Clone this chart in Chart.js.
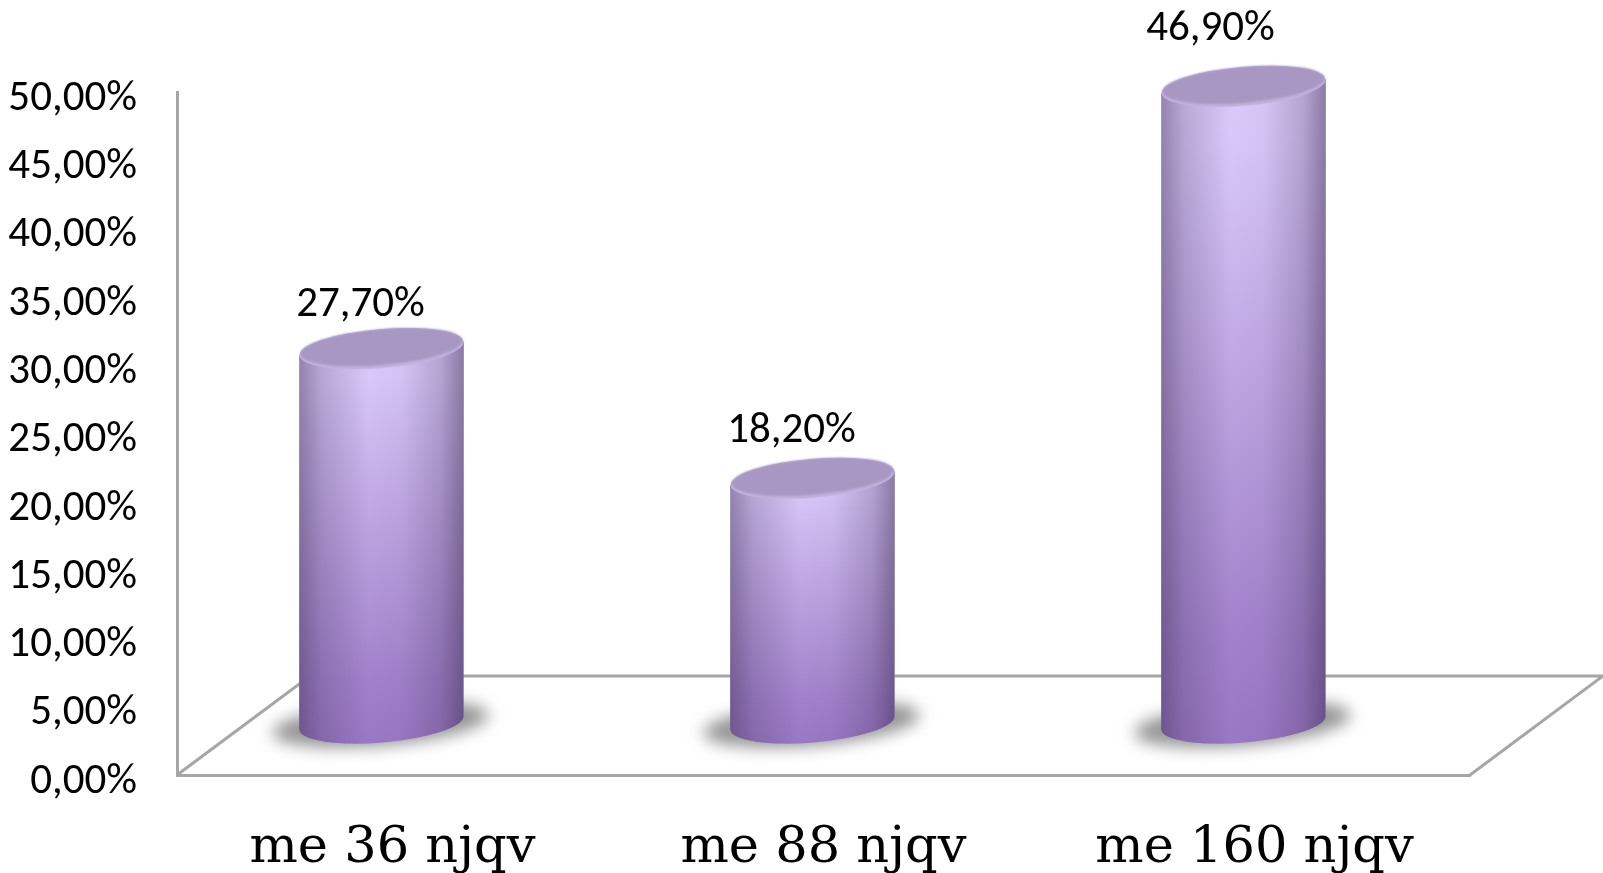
<!DOCTYPE html>
<html>
<head>
<meta charset="utf-8">
<script src="https://cdn.jsdelivr.net/npm/chart.js@4"></script>
<style>
html, body { margin: 0; padding: 0; background: #fff; }
canvas { display: block; }
</style>
</head>
<body>
<canvas id="durationChart" width="1603" height="873"></canvas>
<script>
const categories = ['me 36 njqv', 'me 88 njqv', 'me 160 njqv'];
const percentValues = [27.7, 18.2, 46.9];
const tickStep = 5;
const tickMax = 50;

// the picture's 3D look: where the floor and cylinders sit against the flat axes
const floorDx = 133, floorDy = 99;
const barDx = -11, barDy = -52, lidDrop = 4;
const labelNudge = [[-21, -39], [-21, -43], [-33, -53]];

function formatPercent(v) {
    return v.toFixed(2).replace('.', ',') + '%';
}

function drawFloor(chart) {
    const ctx = chart.ctx, a = chart.chartArea;
    ctx.save();
    ctx.strokeStyle = '#a6a6a6';
    ctx.lineWidth = 3;
    ctx.beginPath();
    ctx.moveTo(a.left, a.bottom);
    ctx.lineTo(a.left + floorDx, a.bottom - floorDy);
    ctx.lineTo(a.right + floorDx, a.bottom - floorDy);
    ctx.lineTo(a.right, a.bottom);
    ctx.stroke();
    ctx.restore();
}

function drawCylinder(ctx, cx, topY, baseY, halfW) {
    const tilt = -4.85 * Math.PI / 180;
    const ry = 19.5;
    const rise = Math.tan(-tilt) * halfW;

    // shadow under the foot
    ctx.save();
    ctx.filter = 'blur(8px)';
    ctx.fillStyle = '#949494';
    ctx.beginPath();
    ctx.ellipse(cx - 1, baseY + 1, halfW + 26, ry + 2, tilt, 0, Math.PI * 2);
    ctx.fill();
    ctx.restore();

    // body outline
    ctx.save();
    ctx.beginPath();
    ctx.moveTo(cx - halfW, topY + rise);
    ctx.lineTo(cx - halfW, baseY + rise);
    ctx.ellipse(cx, baseY, halfW, ry, tilt, Math.PI, 0, true);
    ctx.lineTo(cx + halfW, topY - rise);
    ctx.closePath();
    ctx.clip();

    const v = ctx.createLinearGradient(0, topY - 20, 0, baseY + 20);
    v.addColorStop(0, '#dccbfa');
    v.addColorStop(0.12, '#d8c6f8');
    v.addColorStop(0.5, '#bba2df');
    v.addColorStop(0.85, '#a181cb');
    v.addColorStop(1, '#9a78c4');
    ctx.fillStyle = v;
    ctx.fillRect(cx - halfW - 1, topY - 30, halfW * 2 + 2, baseY - topY + 60);

    const h = ctx.createLinearGradient(cx - halfW, 0, cx + halfW, 0);
    h.addColorStop(0, 'rgba(50,35,70,0.42)');
    h.addColorStop(0.14, 'rgba(50,35,70,0.20)');
    h.addColorStop(0.42, 'rgba(50,35,70,0)');
    h.addColorStop(0.62, 'rgba(50,35,70,0.03)');
    h.addColorStop(0.86, 'rgba(50,35,70,0.22)');
    h.addColorStop(1, 'rgba(50,35,70,0.48)');
    ctx.fillStyle = h;
    ctx.fillRect(cx - halfW - 1, topY - 30, halfW * 2 + 2, baseY - topY + 60);
    ctx.restore();

    // lid, lighter along its front rim
    ctx.save();
    ctx.fillStyle = '#c2b3de';
    ctx.beginPath();
    ctx.ellipse(cx, topY, halfW, ry, tilt, 0, Math.PI * 2);
    ctx.fill();
    ctx.filter = 'blur(1px)';
    ctx.fillStyle = '#a797c2';
    ctx.beginPath();
    ctx.ellipse(cx, topY - 1.5, halfW - 1, ry - 1.5, tilt, 0, Math.PI * 2);
    ctx.fill();
    ctx.restore();
}

const cylinderPlugin = {
    id: 'cylinders',
    beforeDatasetsDraw(chart) {
        drawFloor(chart);
    },
    afterDatasetsDraw(chart) {
        const ctx = chart.ctx;
        const bars = chart.getDatasetMeta(0).data;
        bars.forEach((bar) => {
            drawCylinder(ctx, bar.x + barDx, bar.y + barDy + lidDrop, bar.base + barDy, bar.width / 2);
        });
        ctx.save();
        ctx.font = '43px Carlito, Lato';
        ctx.fillStyle = '#000';
        ctx.textAlign = 'center';
        ctx.textBaseline = 'middle';
        bars.forEach((bar, i) => {
            const nudge = labelNudge[i];
            ctx.fillText(formatPercent(percentValues[i]), bar.x + barDx + nudge[0], bar.y + barDy + nudge[1]);
        });
        ctx.restore();
    }
};

new Chart(document.getElementById('durationChart').getContext('2d'), {
    type: 'bar',
    data: {
        labels: categories,
        datasets: [{
            data: percentValues,
            backgroundColor: 'rgba(0,0,0,0)',
            borderWidth: 0,
            categoryPercentage: 1,
            barPercentage: 0.382
        }]
    },
    options: {
        responsive: false,
        animation: false,
        layout: { padding: { top: 92, right: 133, left: 0, bottom: 0 } },
        scales: {
            x: {
                grid: { display: false },
                border: { color: '#a6a6a6', width: 3 },
                afterFit(scale) { scale.height = 98; },
                ticks: {
                    padding: 35,
                    color: '#000',
                    maxRotation: 0,
                    font: { family: '"DejaVu Serif"', size: 51 }
                }
            },
            y: {
                min: 0,
                max: tickMax,
                grid: { display: false },
                border: { color: '#a6a6a6', width: 3 },
                afterFit(scale) { scale.width = 177; },
                ticks: {
                    stepSize: tickStep,
                    padding: 32,
                    labelOffset: 7,
                    color: '#000',
                    font: { family: 'Carlito, Lato', size: 43 },
                    callback: v => formatPercent(v)
                }
            }
        },
        plugins: {
            legend: { display: false },
            tooltip: { enabled: false }
        }
    },
    plugins: [cylinderPlugin]
});
</script>
</body>
</html>
